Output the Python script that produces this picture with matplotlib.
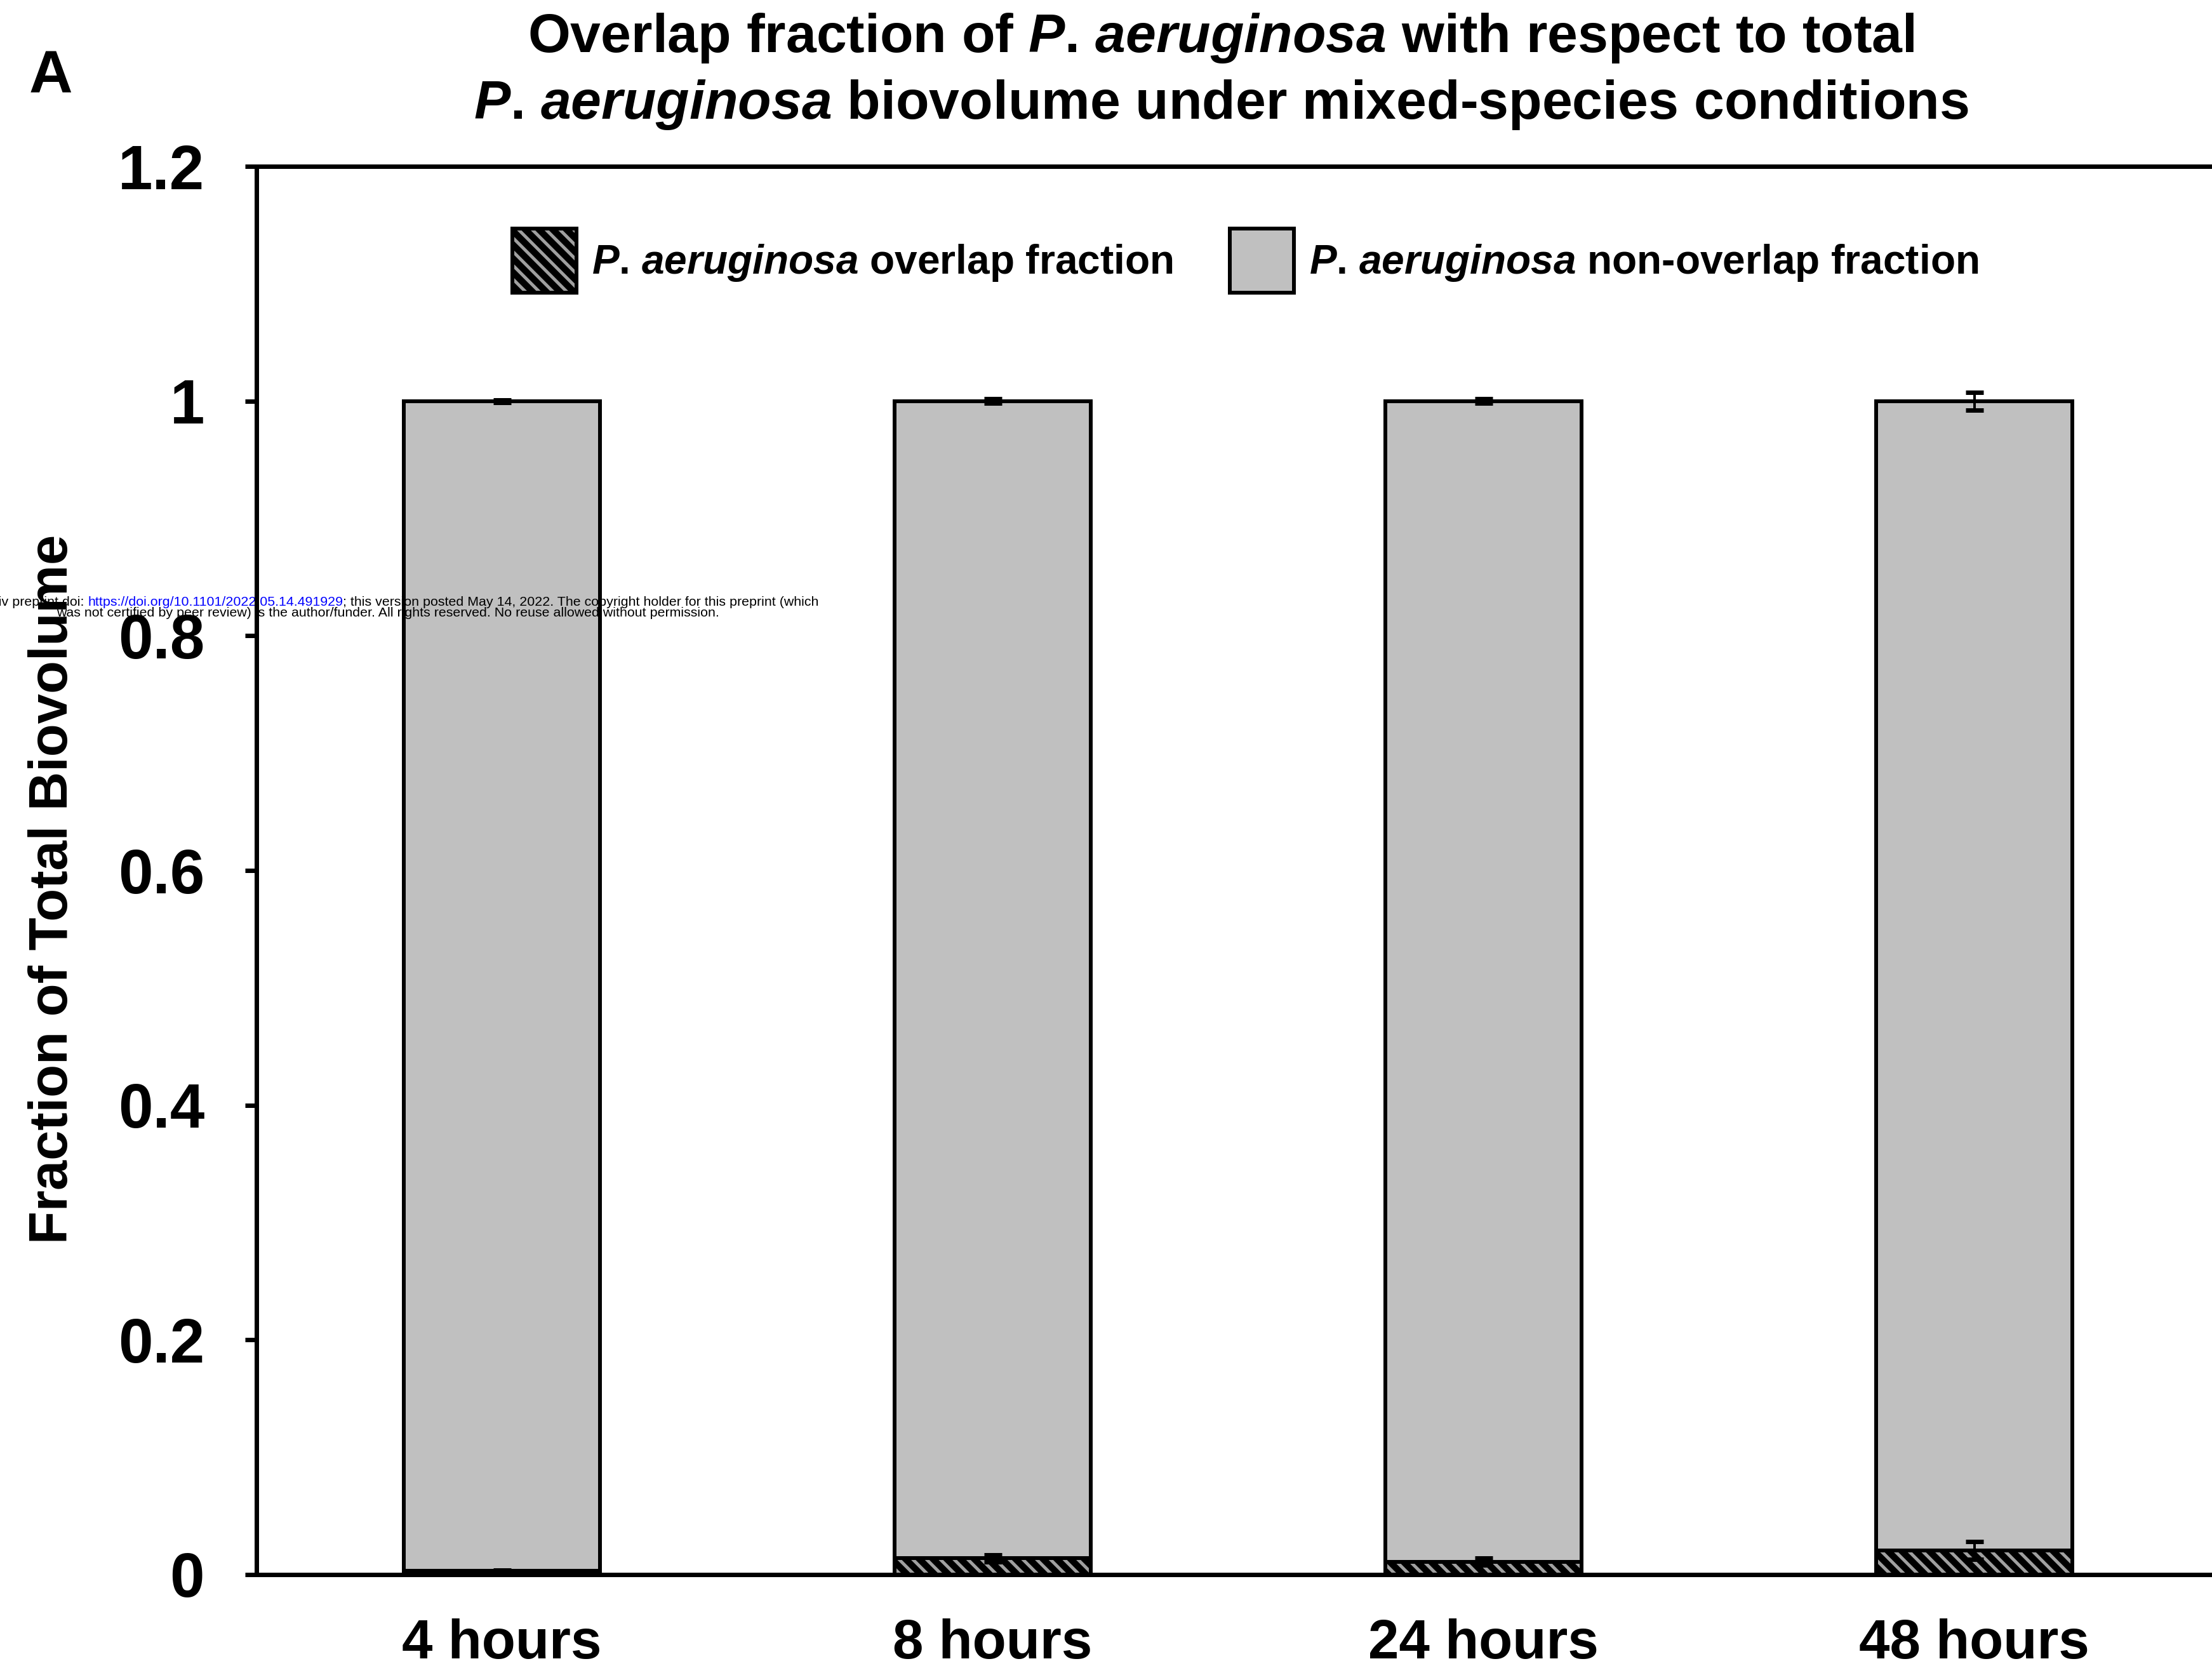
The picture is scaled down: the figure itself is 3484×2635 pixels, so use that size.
import numpy as np
import matplotlib
matplotlib.use("Agg")
import matplotlib.pyplot as plt
from matplotlib.patches import Patch
from matplotlib.legend_handler import HandlerTuple

# values
times = ["4 hours", "8 hours", "24 hours", "48 hours"]
overlap = [0.003, 0.014, 0.011, 0.0205]
overlap_err = [0.001, 0.003, 0.003, 0.0075]
non_overlap = [0.997, 0.986, 0.989, 0.9795]
non_overlap_err = [0.001, 0.002, 0.002, 0.0075]
yticks = [0, 0.2, 0.4, 0.6, 0.8, 1.0, 1.2]
ytick_labels = ["0", "0.2", "0.4", "0.6", "0.8", "1", "1.2"]
# period kept out of math mode, mathtext pads punctuation
species = r"$\mathit{P}$. $\mathit{aeruginosa}$"
labels = [species + " overlap fraction", species + " non-overlap fraction"]

DPI = 130
W, H = 3484, 2635


def px(p):  # pixel size -> points
    return p * 72.0 / DPI


plt.rcParams['font.family'] = ['Liberation Sans', 'DejaVu Sans']
plt.rcParams['font.weight'] = 'bold'
plt.rcParams['mathtext.fontset'] = 'custom'
plt.rcParams['mathtext.rm'] = 'Liberation Sans:bold'
plt.rcParams['mathtext.it'] = 'Liberation Sans:italic:bold'
plt.rcParams['mathtext.bf'] = 'Liberation Sans:bold'
plt.rcParams['hatch.linewidth'] = px(5)

fig = plt.figure(figsize=(W / DPI, H / DPI), dpi=DPI)
ax = fig.add_axes([404 / W, 1 - 2480 / H, 3092 / W, (2480 - 262) / H])

x = np.arange(len(times))
bw = 0.4
edge = px(6)
hatch = '\\\\'

# overlap part: black with grey diagonal hatch
ax.bar(x, overlap, bw, color='black', edgecolor='#a0a0a0', hatch=hatch, linewidth=0, zorder=1)
ax.bar(x, overlap, bw, fill=False, edgecolor='black', linewidth=edge, zorder=3)
# non-overlap part stacked on top
ax.bar(x, non_overlap, bw, bottom=overlap, color='#c0c0c0', linewidth=0, zorder=1)
ax.bar(x, non_overlap, bw, bottom=overlap, fill=False, edgecolor='black', linewidth=edge, zorder=3)

tops = np.add(overlap, non_overlap)
ax.errorbar(x, overlap, yerr=overlap_err, fmt='none', ecolor='black', elinewidth=px(4),
            capsize=px(14), capthick=px(7), zorder=4)
ax.errorbar(x, tops, yerr=non_overlap_err, fmt='none', ecolor='black', elinewidth=px(4),
            capsize=px(14), capthick=px(7), zorder=4)

ax.set_xlim(-0.5, 3.5)
ax.set_ylim(0, 1.2)
ax.set_xticks(x)
ax.set_xticklabels(times)
ax.set_yticks(yticks)
ax.set_yticklabels(ytick_labels)
ax.tick_params(axis='y', direction='out', length=px(18), width=px(7), pad=px(64), labelsize=px(98))
ax.tick_params(axis='x', length=0, pad=px(69), labelsize=px(87))
for s in ['left', 'top', 'bottom']:
    ax.spines[s].set_linewidth(px(7))
    ax.spines[s].set_zorder(5)
ax.spines['right'].set_visible(False)

h1 = (Patch(facecolor='black', edgecolor='#a0a0a0', hatch=hatch, linewidth=0),
      Patch(fill=False, edgecolor='black', linewidth=edge))
h2 = Patch(facecolor='#c0c0c0', edgecolor='black', linewidth=edge)
fs_leg = 64
box = 101
hh = (box / fs_leg - 0.245) / 0.65  # legend shrinks the handle by its descent
ax.legend([h1, h2], labels, handler_map={tuple: HandlerTuple(ndivide=1, pad=0)}, ncol=2,
          loc='upper left', bbox_to_anchor=(807 / W, 1 - 360 / H), bbox_transform=fig.transFigure,
          frameon=False, prop={'size': px(fs_leg), 'weight': 'bold'},
          handlelength=box / fs_leg, handleheight=hh, handletextpad=24 / fs_leg,
          columnspacing=89 / fs_leg, borderpad=0, borderaxespad=0)

# titles and labels
fig.text(1923 / W, 1 - 60 / H, "Overlap fraction of " + species + " with respect to total",
         ha='center', va='center', size=px(86))
fig.text(1923 / W, 1 - 165 / H, species + " biovolume under mixed-species conditions",
         ha='center', va='center', size=px(86))
fig.text(80 / W, 1 - 122 / H, "A", ha='center', va='center', size=px(95))
fig.text(84 / W, 1 - 1400 / H, "Fraction of Total Biovolume", rotation=90,
         ha='center', va='center', size=px(85))

# preprint stamp (sits over the bar fill but under the outlines)
wm = dict(size=px(21.4), weight='normal', zorder=2, clip_on=False)
url = ax.text(138 / W, 1 - 954 / H, "https://doi.org/10.1101/2022.05.14.491929",
              transform=fig.transFigure, color='#0000ff', ha='left', va='baseline', **wm)
ax.annotate("bioRxiv preprint doi: ", xy=(0, 0), xycoords=url, ha='right', va='bottom', **wm)
ax.annotate("; this version posted May 14, 2022. The copyright holder for this preprint (which",
            xy=(1, 0), xycoords=url, ha='left', va='bottom', **wm)
ax.text(611 / W, 1 - 971 / H,
        "was not certified by peer review) is the author/funder. All rights reserved. No reuse allowed without permission.",
        transform=fig.transFigure, ha='center', va='baseline', **wm)

fig.savefig("out.png", dpi=DPI)
